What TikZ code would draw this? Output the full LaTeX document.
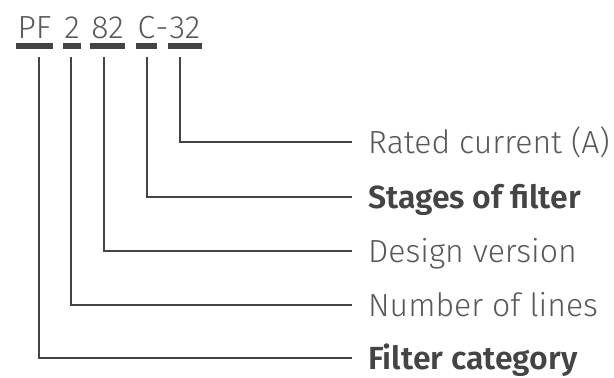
\documentclass[tikz,border=0pt]{standalone}
\usepackage{fontspec}
\setmainfont{Fira Sans}[UprightFont=* Light, BoldFont=* SemiBold]
\usepackage{tikz}
\usetikzlibrary{calc}
\definecolor{ink}{RGB}{68, 68, 68}
\definecolor{txt}{RGB}{88, 88, 88}

\tikzset{
  code/.style={anchor=base, inner sep=0, text depth=0pt, txt,
    font=\fontsize{32}{32}\selectfont},
  lab/.style={anchor=west, inner ysep=0, inner xsep=16pt, text height=22pt,
    text depth=0pt, txt, font=\fontsize{32}{32}\selectfont},
  bar/.style={ink, line width=5.5pt, shorten <=-1.5pt, shorten >=-1.5pt},
  link/.style={ink, line width=2pt}
}

\begin{document}
\begin{tikzpicture}[x=1pt, y=-1pt]
  \useasboundingbox (0, 0) rectangle (614, 378);

  % part number
  \node[code] (pf) at (34.5, 38) {PF};
  \node[code] (two) at (72, 38) {2};
  \node[code] (ver) at (107.5, 38) {82};
  \node[code] (stg) at (146.5, 38) {C};
  \node[code] (dash) at (162, 38) {-};
  \node[code] (amp) at (185, 38) {32};

  \foreach \p in {pf, two, ver, stg, amp} {
    \draw[bar] ([yshift=-8pt]\p.south west) -- ([yshift=-8pt]\p.south east);
  }

  % meanings
  \node[lab] (rated) at (352, 142) {Rated current (A)};
  \node[lab, font=\fontsize{32}{32}\selectfont\bfseries, ink] (stages) at (352, 197) {Stages of filter};
  \node[lab] (design) at (352, 251) {Design version};
  \node[lab] (lines) at (352, 305) {Number of lines};
  \node[lab, font=\fontsize{32}{32}\selectfont\bfseries, ink] (cat) at (352, 358) {Filter category};

  \foreach \p/\l/\dx in {amp/rated/-5, stg/stages/0.5, ver/design/-3.5, two/lines/-1, pf/cat/4.5} {
    \draw[link] ([xshift=\dx pt, yshift=-19pt]\p.south) |- (\l.west);
  }
\end{tikzpicture}
\end{document}
